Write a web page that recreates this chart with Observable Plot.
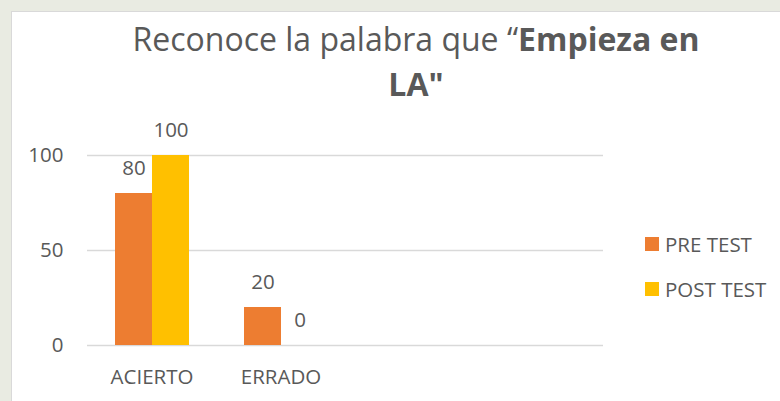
<!DOCTYPE html>
<html>
<head>
<meta charset="utf-8">
<script src="https://cdn.jsdelivr.net/npm/d3@7"></script>
<script src="https://cdn.jsdelivr.net/npm/@observablehq/plot@0.6"></script>
<style>
  html, body { margin: 0; padding: 0; }
  body { width: 780px; height: 401px; overflow: hidden; position: relative; background: #e9ebe2; font-family: "Open Sans", sans-serif; color: #595959; }
  #box { position: absolute; left: 11px; top: 11px; width: 800px; height: 420px; background: #ffffff; border-left: 1px solid #d9d9d9; border-top: 1px solid #d9d9d9; }
  #title { position: absolute; left: 116px; top: 16px; width: 600px; text-align: center; font-size: 32px; line-height: 45px; color: #595959; white-space: nowrap; }
  #chart { position: absolute; left: 0; top: 100px; }
  #legend { position: absolute; left: 645px; top: 221px; font-size: 20.5px; color: #595959; }
  .row { display: flex; align-items: center; height: 45px; white-space: nowrap; }
  .sw { width: 14px; height: 14px; margin-right: 6px; }
</style>
</head>
<body>
<div id="box"></div>
<div id="title">Reconoce la palabra que “<b>Empieza en</b><br><b>LA"</b></div>
<div id="chart"></div>
<div id="legend"></div>
<script>
const categories = ["ACIERTO", "ERRADO"];
const emptySlots = ["slot3", "slot4"];
const series = ["PRE TEST", "POST TEST"];
const preTest = [80, 20];
const postTest = [100, 0];
const seriesColors = ["#ED7D31", "#FFC000"];
const yTicks = [0, 50, 100];

const seriesValues = [preTest, postTest];
const rows = [];
series.forEach((s, si) => {
  categories.forEach((c, ci) => rows.push({ category: c, series: s, value: seriesValues[si][ci] }));
});
const xDomain = [...categories, ...emptySlots];

const barOpts = [
  { insetLeft: 28, insetRight: 64, dx: -18 },
  { insetLeft: 65, insetRight: 27, dx: 19 }
];

const marks = [
  Plot.ruleY(yTicks, { stroke: "#d9d9d9", strokeWidth: 1.5 })
];
series.forEach((s, si) => {
  const d = rows.filter(r => r.series === s);
  marks.push(Plot.barY(d, {
    x: "category", y: "value", fill: seriesColors[si],
    insetLeft: barOpts[si].insetLeft, insetRight: barOpts[si].insetRight
  }));
  marks.push(Plot.text(d, {
    x: "category", y: "value", text: r => String(r.value),
    dx: barOpts[si].dx, dy: -25, fill: "#595959", fontSize: 20.5
  }));
});

const chart = Plot.plot({
  width: 780,
  height: 301,
  marginLeft: 87,
  marginRight: 177,
  marginTop: 55,
  marginBottom: 56,
  style: { fontFamily: "Open Sans", fontSize: "20.5px", color: "#595959", background: "transparent", overflow: "visible" },
  x: { domain: xDomain, padding: 0, tickSize: 0, tickPadding: 24, label: null,
       tickFormat: d => categories.includes(d) ? d : "" },
  y: { domain: [0, 100], ticks: yTicks, tickSize: 0, tickPadding: 24, label: null },
  marks
});
document.getElementById("chart").appendChild(chart);

const legend = document.getElementById("legend");
series.forEach((s, si) => {
  const row = document.createElement("div");
  row.className = "row";
  const sw = document.createElement("span");
  sw.className = "sw";
  sw.style.background = seriesColors[si];
  const t = document.createElement("span");
  t.textContent = s;
  row.appendChild(sw);
  row.appendChild(t);
  legend.appendChild(row);
});
</script>
</body>
</html>
